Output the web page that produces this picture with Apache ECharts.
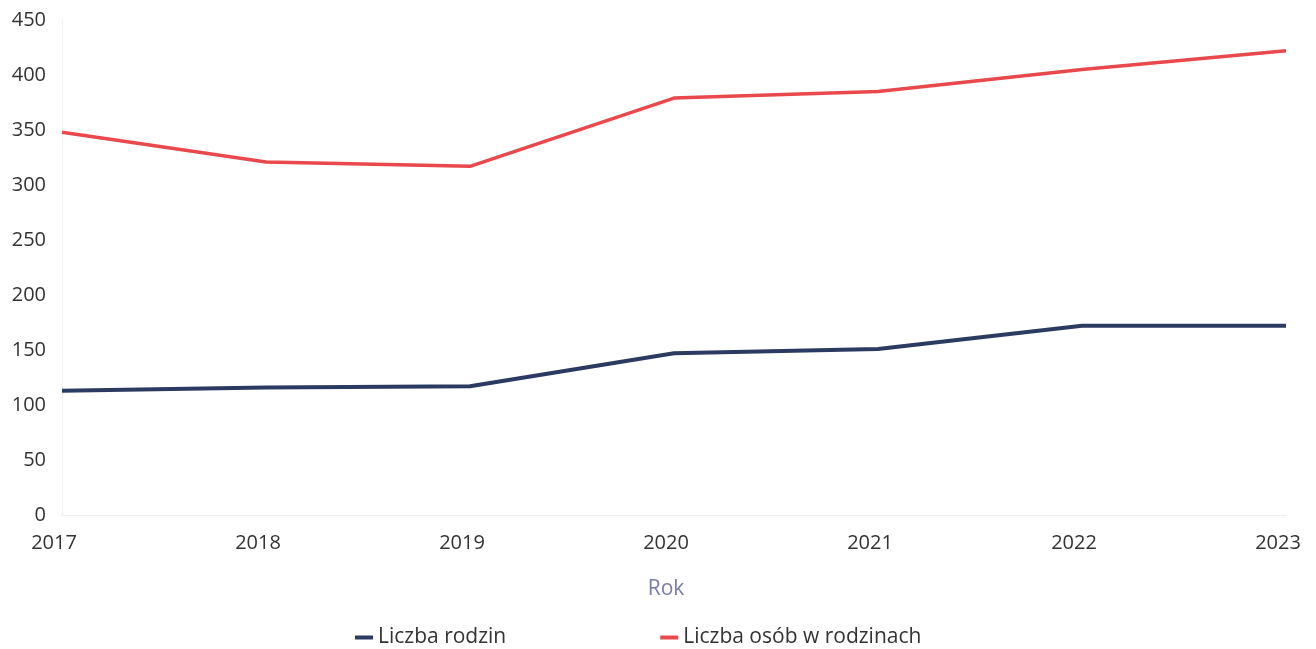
<!DOCTYPE html>
<html lang="pl">
<head>
    <meta charset="UTF-8">
    <title>Rodziny</title>
    <style type="text/css">
        html, body { margin: 0; padding: 0; background: #ffffff; }
        #chart { width: 1316px; height: 649px; }
    </style>
</head>
<body>
<div id="chart"></div>
<script src="https://cdn.jsdelivr.net/npm/echarts@6/dist/echarts.min.js"></script>
<script type="text/javascript">
    var years = ['2017', '2018', '2019', '2020', '2021', '2022', '2023'];
    var rodziny = [113, 116, 117, 147, 151, 172, 172];
    var osoby = [348, 321, 317, 379, 385, 405, 422];

    var chart = echarts.init(document.getElementById('chart'));
    chart.setOption({
        textStyle: { fontFamily: 'Open Sans' },
        grid: { left: 62, right: 30, top: 20, bottom: 134 },
        legend: {
            top: 622,
            left: 350,
            itemGap: 154,
            itemWidth: 18,
            itemHeight: 4,
            icon: 'rect',
            textStyle: { fontSize: 21, color: '#333333', fontFamily: 'Open Sans' },
            data: ['Liczba rodzin', 'Liczba osób w rodzinach']
        },
        xAxis: {
            type: 'category',
            data: years,
            boundaryGap: false,
            name: 'Rok',
            nameLocation: 'middle',
            nameGap: 64,
            nameTextStyle: { fontSize: 21, color: '#7b7ca8', padding: [0, 16, 0, 0] },
            axisLine: { lineStyle: { color: '#eeeeee' } },
            axisTick: { show: false },
            axisLabel: { fontSize: 20, color: '#333333', margin: 18, padding: [0, 16, 0, 0] },
            splitLine: { show: false }
        },
        yAxis: {
            type: 'value',
            min: 0,
            max: 450,
            interval: 50,
            axisLine: { show: true, lineStyle: { color: '#f0f0f0' } },
            axisTick: { show: false },
            axisLabel: { fontSize: 20, color: '#333333', margin: 16 },
            splitLine: { show: false }
        },
        series: [
            {
                name: 'Liczba rodzin',
                type: 'line',
                data: rodziny,
                symbol: 'none',
                color: '#2b3a60',
                lineStyle: { width: 4, color: '#2b3a60' }
            },
            {
                name: 'Liczba osób w rodzinach',
                type: 'line',
                data: osoby,
                symbol: 'none',
                color: '#e9484d',
                lineStyle: { width: 3.5, color: '#e9484d' }
            }
        ]
    });
</script>
</body>
</html>
